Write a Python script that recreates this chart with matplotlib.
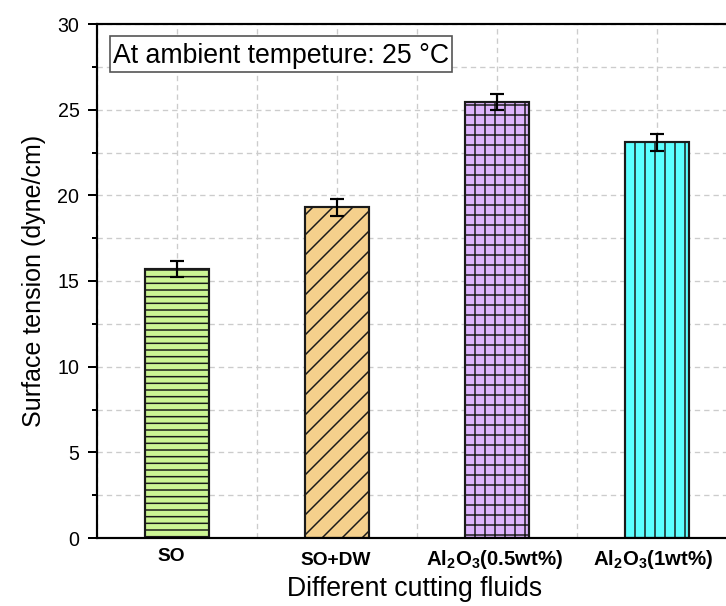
import matplotlib
matplotlib.use("Agg")
import matplotlib.pyplot as plt
import matplotlib.transforms as mtransforms
from matplotlib.patches import Rectangle
from matplotlib.ticker import MultipleLocator

plt.rcParams['font.family'] = ['Liberation Sans', 'DejaVu Sans']
plt.rcParams['mathtext.fontset'] = 'custom'
plt.rcParams['mathtext.rm'] = 'Liberation Sans:bold'
plt.rcParams['mathtext.bf'] = 'Liberation Sans:bold'
plt.rcParams['mathtext.default'] = 'rm'
plt.rcParams['hatch.linewidth'] = 0.9

# ---- data ----
categories = ['SO', 'SO+DW', r'Al$_{2}$O$_{3}$(0.5wt%)', r'Al$_{2}$O$_{3}$(1wt%)']
values = [15.7, 19.3, 25.45, 23.1]
errors = [0.48, 0.5, 0.45, 0.5]
colors = ['#ccf594', '#f5d08c', '#ddb3fc', '#5cffff']
hatches = ['---', '//', '++', '||']

# label placement tweaks (pixels)
label_dx_px = [-6, -1, -2, -4]
label_baseline_px = [561, 565, 565, 565]
label_size = [11.5, 11.5, 12.2, 12.2]

DPI = 120
fig = plt.figure(figsize=(726 / DPI, 606 / DPI), dpi=DPI)
W, H = 726, 606
ax_l, ax_r, ax_t, ax_b = 97, 737, 24, 538
ax = fig.add_axes([ax_l / W, 1 - ax_b / H, (ax_r - ax_l) / W, (ax_b - ax_t) / H])
aw, ah = ax_r - ax_l, ax_b - ax_t

x = list(range(1, len(categories) + 1))
for xi, v, c, h in zip(x, values, colors, hatches):
    ax.bar(xi, v, width=0.4, color=c, edgecolor='#1a1a1a', linewidth=1.3,
           hatch=h, zorder=2)
ax.errorbar(x, values, yerr=errors, fmt='none', ecolor='black',
            elinewidth=1.3, capsize=4, capthick=1.3, zorder=3)

ax.set_xlim(0.5, 4.5)
ax.set_ylim(0, 30)
ax.yaxis.set_major_locator(MultipleLocator(5))
ax.yaxis.set_minor_locator(MultipleLocator(2.5))
ax.set_xticks([])
ax.xaxis.set_minor_locator(MultipleLocator(0.5))

trans = mtransforms.blended_transform_factory(ax.transData, ax.transAxes)
for xi, lab, dx, by, fs in zip(x, categories, label_dx_px, label_baseline_px, label_size):
    ax.text(xi, (ax_b - by) / ah, lab, transform=trans +
            mtransforms.ScaledTranslation(dx / DPI, 0, fig.dpi_scale_trans),
            ha='center', va='baseline', fontsize=fs, fontweight='bold')

ax.tick_params(axis='x', which='both', length=0)
ax.tick_params(axis='y', which='major', direction='out', length=5.5, width=1.2,
               labelsize=11.8, pad=5)
ax.tick_params(axis='y', which='minor', direction='out', length=3, width=1.2)

ax.set_axisbelow(True)
ax.grid(True, which='both', color='#cccccc', linestyle=(0, (4, 3)), linewidth=0.8)

for s in ['left', 'top', 'bottom', 'right']:
    ax.spines[s].set_linewidth(1.3)

ax.set_ylabel('Surface tension (dyne/cm)', fontsize=15, va='center')
ax.yaxis.set_label_coords((34 - ax_l) / aw, (ax_b - 280.5) / ah)
ax.set_xlabel('Different cutting fluids', fontsize=16, va='baseline')
ax.xaxis.set_label_coords((415 - ax_l) / aw, (ax_b - 596) / ah)

# annotation box
ax.add_patch(Rectangle(((110 - ax_l) / aw, (ax_b - 72) / ah), (452 - 110) / aw, 36 / ah,
                       transform=ax.transAxes, facecolor='white', edgecolor='#555555',
                       linewidth=1.0, zorder=4))
ax.text((113 - ax_l) / aw, (ax_b - 63) / ah, 'At ambient tempeture: 25 \u00b0C',
        transform=ax.transAxes, fontsize=16, ha='left', va='baseline', zorder=5)

fig.savefig('out.png', dpi=DPI)
